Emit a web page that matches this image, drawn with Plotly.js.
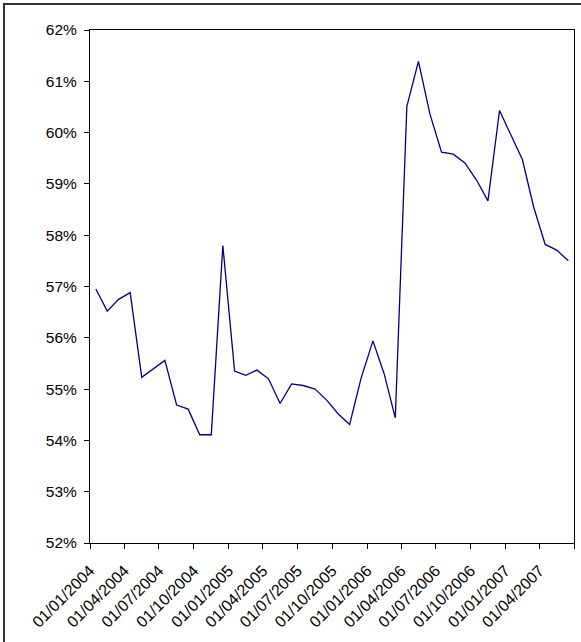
<!DOCTYPE html>
<html>
<head>
<meta charset="utf-8">
<script src="https://cdn.plot.ly/plotly-3.0.1.min.js"></script>
<style>
  html, body { margin: 0; padding: 0; background: #fff; }
  #chart { width: 581px; height: 642px; }
</style>
</head>
<body>
<div id="chart"></div>
<script>
// Monthly periods, Jan 2004 – Jun 2007
const months = [
  '2004-01','2004-02','2004-03','2004-04','2004-05','2004-06',
  '2004-07','2004-08','2004-09','2004-10','2004-11','2004-12',
  '2005-01','2005-02','2005-03','2005-04','2005-05','2005-06',
  '2005-07','2005-08','2005-09','2005-10','2005-11','2005-12',
  '2006-01','2006-02','2006-03','2006-04','2006-05','2006-06',
  '2006-07','2006-08','2006-09','2006-10','2006-11','2006-12',
  '2007-01','2007-02','2007-03','2007-04','2007-05','2007-06'
];

// Share in percent for each month
const share = [
  56.95, 56.52, 56.75, 56.88, 55.23, 55.40,
  55.56, 54.69, 54.61, 54.11, 54.11, 57.80,
  55.35, 55.27, 55.37, 55.20, 54.72, 55.10,
  55.07, 55.00, 54.79, 54.52, 54.31, 55.22,
  55.94, 55.30, 54.44, 60.51, 61.39, 60.36,
  59.62, 59.58, 59.41, 59.08, 58.67, 60.43,
  59.95, 59.47, 58.55, 57.82, 57.71, 57.50
];

// Quarterly tick positions and their labels (the closing tick has no label)
const tickDates = [
  '2004-01-01','2004-04-01','2004-07-01','2004-10-01',
  '2005-01-01','2005-04-01','2005-07-01','2005-10-01',
  '2006-01-01','2006-04-01','2006-07-01','2006-10-01',
  '2007-01-01','2007-04-01','2007-07-01'
];
const tickLabels = [
  '01/01/2004','01/04/2004','01/07/2004','01/10/2004',
  '01/01/2005','01/04/2005','01/07/2005','01/10/2005',
  '01/01/2006','01/04/2006','01/07/2006','01/10/2006',
  '01/01/2007','01/04/2007',''
];

const trace = {
  type: 'scatter',
  mode: 'lines',
  x: months,
  y: share,
  xperiod: 'M1',
  xperiodalignment: 'middle',
  line: { color: '#000080', width: 1.3 },
  hoverinfo: 'x+y'
};

const layout = {
  width: 581,
  height: 642,
  margin: { l: 90, r: 7, t: 30, b: 99, pad: 0 },
  paper_bgcolor: '#ffffff',
  plot_bgcolor: '#ffffff',
  showlegend: false,
  font: { family: 'Liberation Sans, Arial, sans-serif', size: 15.5, color: '#000' },
  xaxis: {
    type: 'date',
    range: ['2004-01-01', '2007-07-01'],
    tickmode: 'array',
    tickvals: tickDates,
    ticktext: tickLabels,
    tickangle: -45,
    tickfont: { size: 16 },
    ticklabelstandoff: 6,
    ticks: 'outside',
    ticklen: 5,
    tickcolor: '#000',
    showline: true,
    linecolor: '#000',
    linewidth: 1,
    mirror: true,
    showgrid: false,
    zeroline: false,
    fixedrange: true
  },
  yaxis: {
    range: [52, 62],
    dtick: 1,
    tick0: 52,
    ticksuffix: '%',
    ticklabelstandoff: 4,
    ticks: 'outside',
    ticklen: 5,
    tickcolor: '#000',
    showline: true,
    linecolor: '#000',
    linewidth: 1,
    mirror: true,
    showgrid: false,
    zeroline: false,
    fixedrange: true
  },
  shapes: [{
    // chart-area border
    type: 'rect',
    xref: 'paper', yref: 'paper',
    x0: -0.1777, x1: 1.2, y0: -0.3, y1: 1.0507,
    line: { color: '#333', width: 2 },
    fillcolor: 'rgba(0,0,0,0)',
    layer: 'below'
  }]
};

Plotly.newPlot('chart', [trace], layout, { displayModeBar: false, staticPlot: true });
</script>
</body>
</html>
